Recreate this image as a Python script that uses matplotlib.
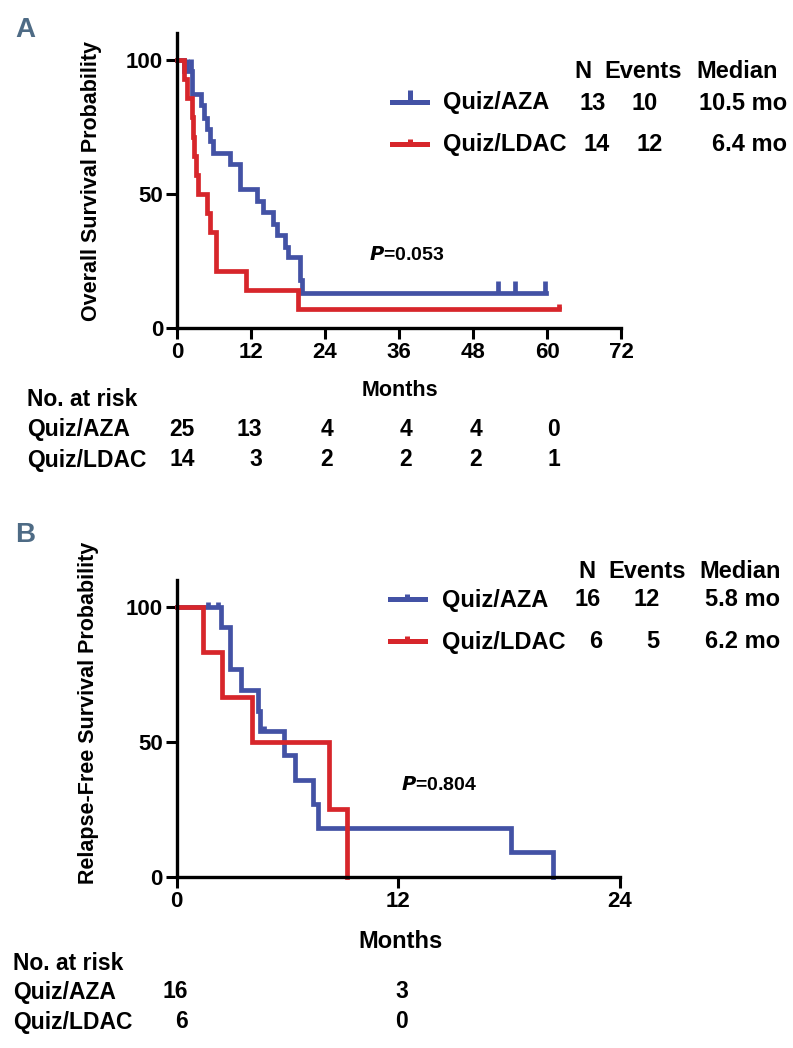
import matplotlib
matplotlib.use('Agg')
import matplotlib.pyplot as plt
from matplotlib.path import Path
from matplotlib.lines import Line2D

# ---- data ----
# Panel A: overall survival
aza_os_t = [0, 1.2, 2.5, 3.9, 4.4, 4.9, 5.3, 5.8, 8.6, 10.2, 12.9, 14.0, 15.6, 16.2, 17.5, 18.0, 19.9, 20.2]
aza_os_s = [100, 96, 87.1, 83.1, 78.4, 74.3, 69.7, 65.4, 61.1, 51.8, 47.5, 43.1, 38.8, 34.5, 30.1, 26.4, 17.8, 12.9]
aza_os_end = 59.8
aza_os_cens_t = [1.6, 2.3, 52.0, 54.8, 59.7]
aza_os_cens_s = [96, 96, 12.9, 12.9, 12.9]

ldac_os_t = [0, 1.2, 1.7, 2.4, 2.6, 2.8, 3.0, 3.4, 4.8, 5.3, 6.3, 11.2, 19.7]
ldac_os_s = [100, 92.9, 85.7, 78.6, 71.4, 64.3, 57.1, 50, 42.9, 35.7, 21.4, 14.3, 7.1]
ldac_os_end = 62.0
ldac_os_cens_t = [62.0]
ldac_os_cens_s = [7.1]

# Panel B: relapse-free survival
aza_rfs_t = [0, 2.38, 2.9, 3.5, 4.4, 4.5, 5.8, 6.4, 7.4, 7.67, 18.1, 20.35]
aza_rfs_s = [100, 92.3, 76.9, 69.2, 61.5, 53.8, 44.9, 35.9, 26.9, 17.9, 9.0, 0]
aza_rfs_cens_t = [1.7, 2.25, 4.7]
aza_rfs_cens_s = [100, 100, 53.8]

ldac_rfs_t = [0, 1.4, 2.43, 4.06, 8.25, 9.24]
ldac_rfs_s = [100, 83.3, 66.7, 50, 25, 0]

groups = ['Quiz/AZA', 'Quiz/LDAC']
stats_a = [['13', '10', '10.5 mo'], ['14', '12', '6.4 mo']]
stats_b = [['16', '12', '5.8 mo'], ['6', '5', '6.2 mo']]
risk_a = [['25', '13', '4', '4', '4', '0'], ['14', '3', '2', '2', '2', '1']]
risk_b = [['16', '3'], ['6', '0']]

BLUE = '#4352a5'
RED = '#d7262b'
LETTER = '#4e6b85'

W, H = 793, 1048
plt.rcParams['font.family'] = ['Liberation Sans', 'DejaVu Sans']
plt.rcParams['font.weight'] = 'bold'

fig = plt.figure(figsize=(W / 100, H / 100), dpi=100)

def fx(x):
    return x / W

def fy(y):
    return 1 - y / H

def txt(x, y, s, size=16, ha='left', va='center', **kw):
    fig.text(fx(x), fy(y), s, fontsize=size, ha=ha, va=va, fontweight='bold', **kw)

tick_up = Path([(0, 0), (0, 1)], [Path.MOVETO, Path.LINETO])

def style_axes(ax, xmax, xticks):
    ax.set_xlim(0, xmax)
    ax.set_ylim(0, 110)
    ax.set_xticks(xticks)
    ax.set_yticks([0, 50, 100])
    for sp in ['top', 'right']:
        ax.spines[sp].set_visible(False)
    for sp in ['left', 'bottom']:
        ax.spines[sp].set_linewidth(2.4)
    ax.tick_params(width=2.2, length=8, labelsize=16, pad=2)
    for lab in ax.get_xticklabels() + ax.get_yticklabels():
        lab.set_fontweight('bold')

def km(ax, t, s, end, color, ct=None, cs=None, ms=8):
    tt = list(t) + [end]
    ss = list(s) + [s[-1]]
    ax.step(tt, ss, where='post', color=color, lw=3.4, clip_on=False,
            solid_joinstyle='miter')
    if ct:
        ax.plot(ct, cs, ls='none', marker=tick_up, ms=ms, mew=3.4,
                mec=color, mfc='none', clip_on=False)

def legend_line(x0, x1, y, color, ms):
    fig.add_artist(Line2D([fx(x0), fx(x1)], [fy(y), fy(y)], color=color, lw=3.6,
                          transform=fig.transFigure))
    fig.add_artist(Line2D([fx((x0 + x1) / 2)], [fy(y)], color=color, marker=tick_up,
                          ms=ms, mew=3.6, mfc='none', ls='none',
                          transform=fig.transFigure))

# ---------------- Panel A ----------------
axA = fig.add_axes([fx(177), fy(328), fx(621) - fx(177), fy(33) - fy(328)])
style_axes(axA, 72, [0, 12, 24, 36, 48, 60, 72])
km(axA, aza_os_t, aza_os_s, aza_os_end, BLUE, aza_os_cens_t, aza_os_cens_s, ms=17)
km(axA, ldac_os_t, ldac_os_s, ldac_os_end, RED, ldac_os_cens_t, ldac_os_cens_s, ms=7)

txt(25, 30, 'A', size=20, ha='center', color=LETTER, family=['Liberation Sans Narrow', 'Liberation Sans'])
txt(92, 181, 'Overall Survival Probability', size=15.5, ha='center', rotation=90)
txt(400, 391, 'Months', size=15.5, ha='center')
fig.text(fx(407), fy(255), r'$\bfit{P}$=0.053', fontsize=14, ha='center', va='center',
         fontweight='bold')

# legend / stats A
txt(583, 72, 'N', size=17, ha='center')
txt(643, 72, 'Events', size=17, ha='center')
txt(737, 72, 'Median', size=17, ha='center')
rows_a = [103, 145]
for i, (g, col) in enumerate(zip(groups, [BLUE, RED])):
    y = rows_a[i]
    legend_line(392, 427, y - 1.5, col, 18 if i == 0 else 7)
    txt(443, y, g, size=17)
    txt([593, 597][i], y, stats_a[i][0], size=17, ha='center')
    txt([645, 650][i], y, stats_a[i][1], size=17, ha='center')
    txt(787, y, stats_a[i][2], size=17, ha='right')

# at risk A
txt(27, 400, 'No. at risk', size=16.5)
risk_x_a = [195, 262, 333, 412, 482, 560]
for i, g in enumerate(groups):
    y = [430, 460][i]
    txt(27, y, g, size=16.5)
    for xr, v in zip(risk_x_a, risk_a[i]):
        txt(xr, y, v, size=16.5, ha='right')

# ---------------- Panel B ----------------
axB = fig.add_axes([fx(176.7), fy(876.7), fx(620) - fx(176.7), fy(579.7) - fy(876.7)])
style_axes(axB, 24, [0, 12, 24])
km(axB, aza_rfs_t, aza_rfs_s, aza_rfs_t[-1], BLUE, aza_rfs_cens_t, aza_rfs_cens_s, ms=7)
km(axB, ldac_rfs_t, ldac_rfs_s, ldac_rfs_t[-1], RED)

txt(25, 535, 'B', size=20, ha='center', color=LETTER, family=['Liberation Sans Narrow', 'Liberation Sans'])
txt(89, 713, 'Relapse-Free Survival Probability', size=15.5, ha='center', rotation=90)
txt(400, 941, 'Months', size=17, ha='center')
fig.text(fx(439), fy(785), r'$\bfit{P}$=0.804', fontsize=14, ha='center', va='center',
         fontweight='bold')

txt(587, 572, 'N', size=17, ha='center')
txt(647, 572, 'Events', size=17, ha='center')
txt(740, 572, 'Median', size=17, ha='center')
rows_b = [600, 642]
for i, (g, col) in enumerate(zip(groups, [BLUE, RED])):
    y = rows_b[i]
    legend_line(390, 425, y - 1, col, 7)
    txt(442, y, g, size=17)
    txt([588, 596][i], y, stats_b[i][0], size=17, ha='center')
    txt([647, 653][i], y, stats_b[i][1], size=17, ha='center')
    txt(780, y, stats_b[i][2], size=17, ha='right')

txt(13, 964, 'No. at risk', size=16.5)
risk_x_b = [188, 408]
for i, g in enumerate(groups):
    y = [992, 1022][i]
    txt(13, y, g, size=16.5)
    for xr, v in zip(risk_x_b, risk_b[i]):
        txt(xr, y, v, size=16.5, ha='right')

fig.savefig('out.png', dpi=100)
